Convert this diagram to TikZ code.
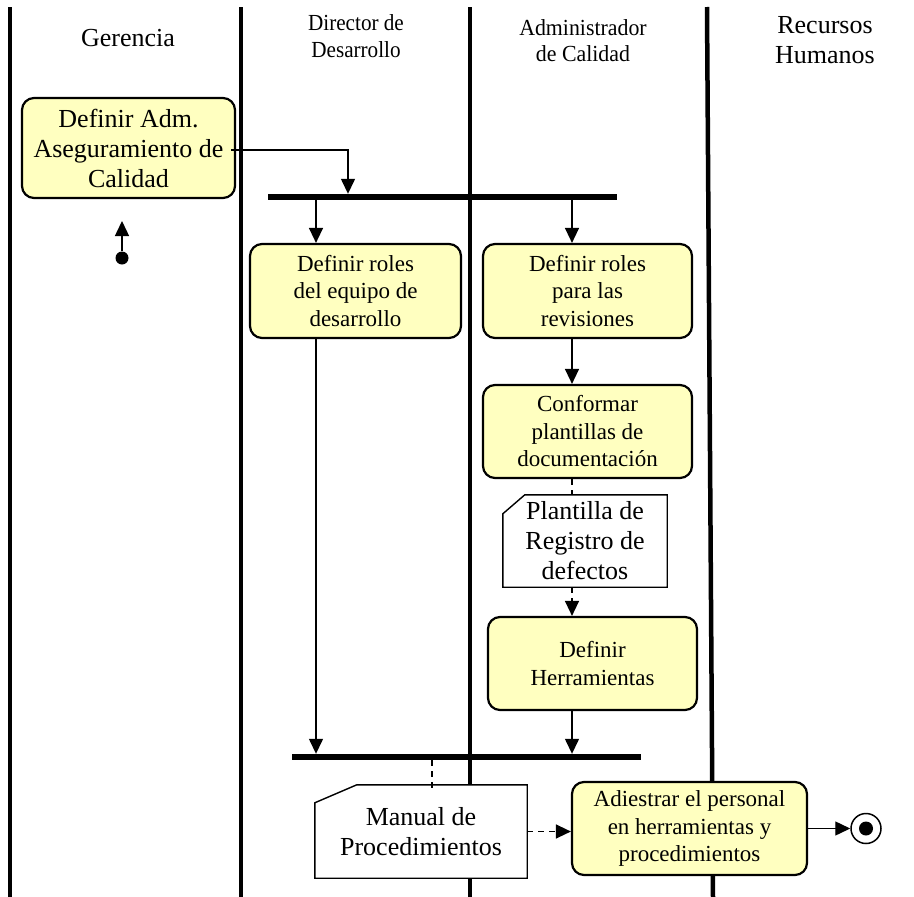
\documentclass[tikz,border=0pt]{standalone}
\usepackage{fontspec}
\setmainfont{Liberation Serif}
\usetikzlibrary{arrows.meta}

\definecolor{actfill}{RGB}{255,255,192}
\tikzset{
  activity/.style={draw, line width=2.2pt, rounded corners=12pt, fill=actfill, align=center,
                   inner sep=0pt, font=\fontsize{23}{27.5}\selectfont},
  docnode/.style={align=center, inner sep=0pt, font=\fontsize{26}{30}\selectfont},
  lanehead/.style={align=center, inner sep=0pt},
  bar/.style={fill=black, inner sep=0pt, minimum height=6pt},
  tip/.style={-{Triangle[length=15pt,width=14pt]}},
  flow/.style={line width=1.4pt, tip},
  objflow/.style={line width=1.4pt, dash pattern=on 6pt off 5pt},
  lane/.style={line width=4.5pt},
}

\begin{document}
\begin{tikzpicture}[x=1pt,y=-1pt]
    \useasboundingbox (0,0) rectangle (914,897);

    \draw[lane] (10,7)  -- (10,897);
    \draw[lane] (241,7) -- (241,897);
    \draw[lane] (470,7) -- (470,897);
    \draw[lane] (707,7) -- (713,897);

    \node[lanehead, font=\fontsize{26}{30}\selectfont] (hger) at (128,38) {Gerencia};
    \node[lanehead, font=\fontsize{23}{27}\selectfont] (hdir) at (356,36) {\scalebox{0.92}[1]{Director de}\\\scalebox{0.92}[1]{Desarrollo}};
    \node[lanehead, font=\fontsize{23}{26}\selectfont] (hadm) at (583,41) {\scalebox{0.95}[1]{Administrador}\\\scalebox{0.95}[1]{de Calidad}};
    \node[lanehead, font=\fontsize{26}{30}\selectfont] (hrh)  at (825,40) {Recursos\\Humanos};

    \node[activity, minimum width=213pt, minimum height=100pt, font=\fontsize{26}{30}\selectfont]
         (adm) at (128.5,148) {Definir Adm.\\Aseguramiento de\\Calidad};
    \node[circle, fill, minimum size=13pt, inner sep=0pt] (ini) at (122,258) {};
    \coordinate (iniend) at (122,221);

    \node[bar, minimum width=349pt] (fork) at (442.5,197) {};
    \node[bar, minimum width=349pt] (join) at (466.5,757) {};

    \coordinate (colA) at (316,0);
    \coordinate (colB) at (572,0);
    \coordinate (colC) at (348,0);
    \coordinate (colD) at (432,0);

    \node[activity, minimum width=211pt, minimum height=94pt] (rolesdes) at (355.5,291) {Definir roles\\del equipo de\\desarrollo};
    \node[activity, minimum width=209pt, minimum height=94pt] (rolesrev) at (587.5,291) {Definir roles\\para las\\revisiones};
    \node[activity, minimum width=209pt, minimum height=93pt] (plantillas) at (587.5,431.5) {Conformar\\plantillas de\\documentación};
    \node[docnode, minimum width=164pt, minimum height=92pt] (regdef) at (585,541) {};
    \node[activity, minimum width=209pt, minimum height=93pt] (herr) at (592.5,663.5) {Definir\\Herramientas};
    \node[docnode, minimum width=212pt, minimum height=93pt] (manual) at (421,831.5) {};
    \node[activity, minimum width=235pt, minimum height=93pt] (adiestrar) at (689.5,828.5) {Adiestrar el personal\\en herramientas y\\procedimientos};
    \node[draw, circle, line width=1.5pt, minimum size=30pt, inner sep=0pt] (fin) at (866,828.5) {};
    \fill (fin) circle[radius=7pt];

    \draw[line width=1.4pt, fill=white] ([xshift=22pt]regdef.north west) -- (regdef.north east) -- (regdef.south east)
          -- (regdef.south west) -- ([yshift=-19pt]regdef.north west) -- cycle;
    \node[docnode] at (regdef) {Plantilla de\\Registro de\\defectos};
    \draw[line width=1.4pt, fill=white] ([xshift=42pt]manual.north west) -- (manual.north east) -- (manual.south east)
          -- (manual.south west) -- ([yshift=-18pt]manual.north west) -- cycle;
    \node[docnode] at (manual) {Manual de\\Procedimientos};

    \draw[flow] (ini) -- (iniend);
    \draw[flow] ([xshift=-5pt,yshift=-2pt]adm.east) -| (fork.north -| colC);
    \draw[flow] (fork.south -| colA) -- (rolesdes.north -| colA);
    \draw[flow] (fork.south -| colB) -- (rolesrev.north -| colB);
    \draw[flow] (rolesrev.south -| colB) -- (plantillas.north -| colB);
    \draw[objflow] (plantillas.south -| colB) -- (regdef.north -| colB);
    \draw[objflow, tip] (regdef.south -| colB) -- (herr.north -| colB);
    \draw[flow] (herr.south -| colB) -- (join.north -| colB);
    \draw[flow] (rolesdes.south -| colA) -- (join.north -| colA);
    \draw[objflow] (join.south -| colD) -- ([yshift=-7pt]manual.north -| colD);
    \draw[objflow, tip] (manual.east) -- (manual.east -| adiestrar.west);
    \draw[flow] (adiestrar.east) -- (fin);
\end{tikzpicture}
\end{document}
